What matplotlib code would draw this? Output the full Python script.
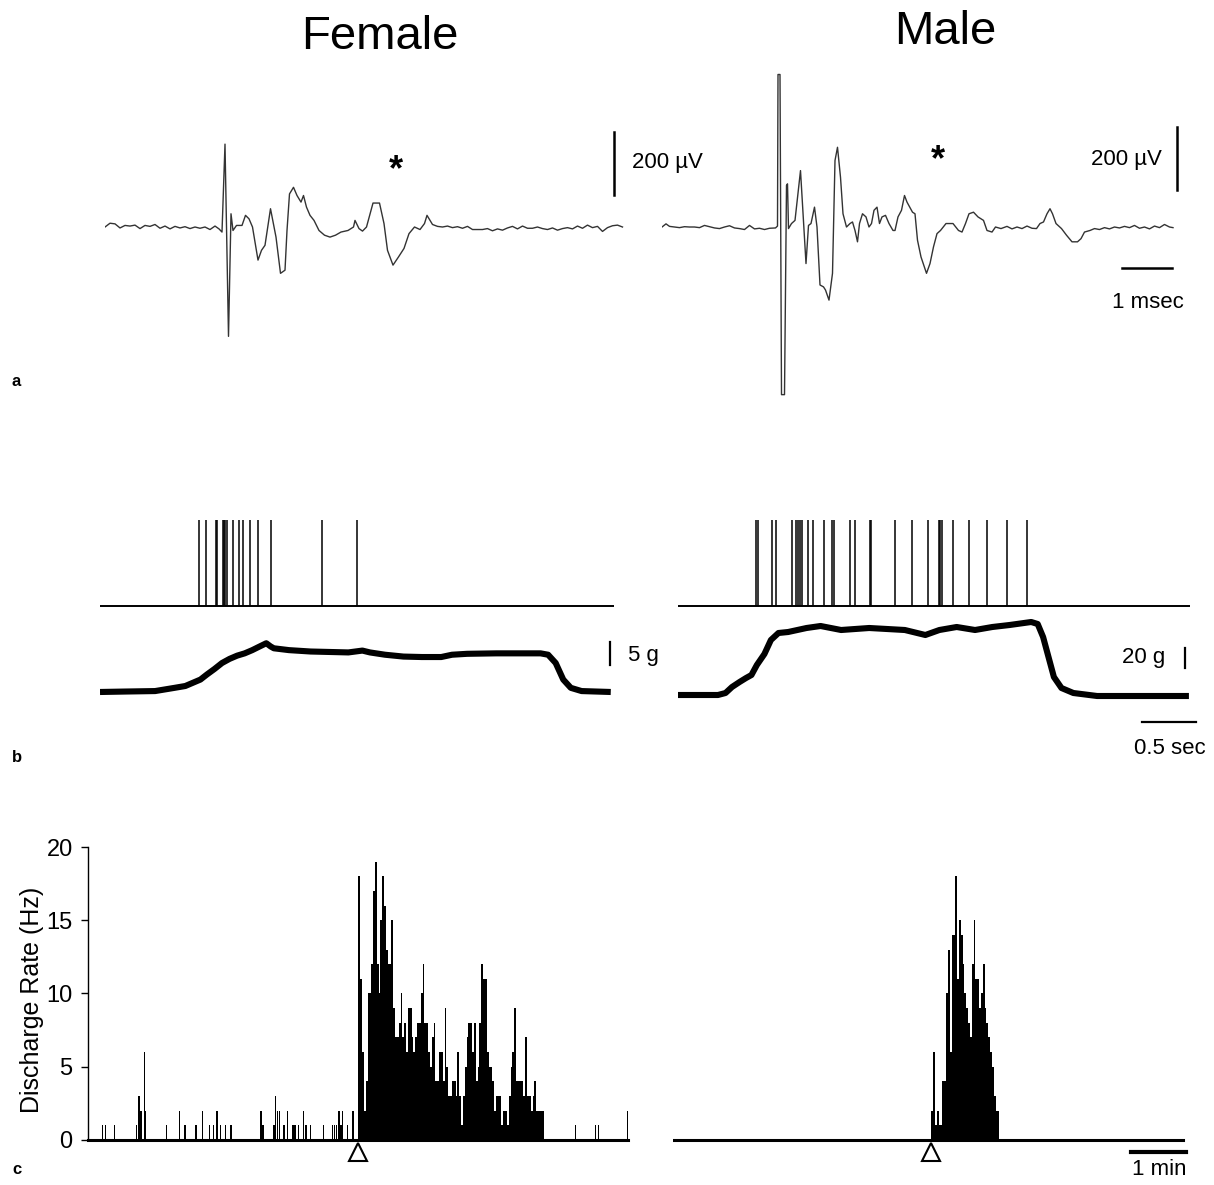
import matplotlib
matplotlib.use('Agg')
import matplotlib.pyplot as plt

plt.rcParams['font.family'] = ['Liberation Sans', 'DejaVu Sans']

# --- panel a: single unit waveforms (ms, uV) ---
fem_t = [0.0, 0.1, 0.2, 0.3, 0.4, 0.5, 0.6, 0.7, 0.8, 0.9, 1.0, 1.1, 1.2, 1.3, 1.4, 1.5,
         1.6, 1.7, 1.8, 1.9, 2.0, 2.1, 2.2, 2.28, 2.34, 2.40, 2.47, 2.52, 2.56, 2.63, 2.74,
         2.81, 2.88, 2.95, 3.06, 3.13, 3.20, 3.31, 3.42, 3.51, 3.60, 3.64, 3.69, 3.77, 3.84,
         3.92, 3.97, 4.03, 4.10, 4.18, 4.28, 4.39, 4.50, 4.61, 4.72, 4.86, 4.97, 5.00, 5.08,
         5.15, 5.23, 5.36, 5.49, 5.58, 5.65, 5.76, 5.87, 5.98, 6.08, 6.19, 6.30, 6.39, 6.44,
         6.55, 6.65, 6.75, 6.85, 6.95, 7.05, 7.15, 7.25, 7.35, 7.45, 7.55, 7.65, 7.75, 7.85,
         7.95, 8.05, 8.15, 8.25, 8.35, 8.45, 8.55, 8.65, 8.75, 8.85, 8.95, 9.05, 9.15, 9.25,
         9.35, 9.45, 9.55, 9.65, 9.75, 9.85, 9.95, 10.05, 10.15, 10.25, 10.35]
fem_v = [0, 12, 10, -3, 5, 3, 6, -5, 5, 2, 8, -4, 3, -6, 2, -3, 1, -5, 0, -4, 0, -8, 3, -6,
         -16, 263, -347, 42, -11, 5, 5, 37, 26, 0, -105, -74, -58, 58, -32, -147, -137, -11,
         105, 126, 100, 79, 100, 63, 37, 21, -11, -26, -32, -26, -16, -11, 0, 21, -5, -13, 0,
         76, 76, 11, -74, -121, -95, -68, -21, 0, -8, 11, 37, 8,
         2, 0, 3, -2, 1, -4, 2, -8, -8, -8, -5, -12, -6, -10, -3, 2, -6, 3, -4, -4, 0, -5, -8,
         -3, -10, -5, -2, -6, 3, -4, 6, -2, 2, -14, -2, 4, 6, 0]

male_t = [0.0, 0.08, 0.15, 0.25, 0.35, 0.45, 0.55, 0.65, 0.75, 0.85, 0.95, 1.05, 1.15, 1.25,
          1.35, 1.45, 1.55, 1.65, 1.75, 1.85, 1.95, 2.05, 2.15, 2.27, 2.31, 2.32, 2.36, 2.39,
          2.45, 2.49, 2.51, 2.53, 2.59, 2.66, 2.77, 2.88, 2.93, 2.98, 3.05, 3.10, 3.16, 3.23,
          3.27, 3.34, 3.41, 3.46, 3.51, 3.57, 3.62, 3.69, 3.76, 3.81, 3.86, 3.91, 3.95, 4.01,
          4.08, 4.14, 4.19, 4.24, 4.30, 4.35, 4.40, 4.47, 4.54, 4.62, 4.66, 4.72, 4.79, 4.85,
          4.90, 5.01, 5.06, 5.11, 5.18, 5.29, 5.36, 5.43, 5.50, 5.57, 5.68, 5.82, 5.93, 6.00,
          6.07, 6.14, 6.23, 6.32, 6.43, 6.50, 6.60, 6.67, 6.78, 6.9, 7.0, 7.1, 7.2, 7.3, 7.4,
          7.49, 7.56, 7.63, 7.70, 7.76, 7.81, 7.88, 7.99, 8.09, 8.20, 8.31, 8.38, 8.45, 8.56,
          8.65, 8.75, 8.85, 8.95, 9.05, 9.15, 9.25, 9.35, 9.45, 9.55, 9.65, 9.75, 9.85, 9.95,
          10.05, 10.15, 10.22]
male_v = [0, 10, 2, 0, -2, 1, 0, 0, -2, 5, 1, -3, -5, 0, 4, -3, -5, -8, 5, -6, -4, -8, -4,
          -3, 3, 484, 484, -532, -532, 132, 137, -5, 11, 21, 179, -116, 5, 11, 63, 0, -184,
          -190, -200, -232, -147, 211, 253, 158, 42, 0, 11, 16, -11, -47, 11, 42, 32, 0, 11,
          53, 63, 11, 32, 37, 11, -11, -11, 32, 53, 100, 79, 47, 42, -42, -95, -147, -116,
          -63, -21, -11, 11, 11, -11, -16, 11, 42, 47, 32, 21, -11, -16, 0, -5, 2, -6, 0, -5,
          3, -4, -5, 11, 16, 42, 58, 42, 11, -5, -26, -47, -47, -37, -16, -11, -5, -8, -2, -6,
          0, -3, 2, -2, 5, -4, 0, -6, 3, -2, 8, 0, -2]

# --- panel b: spike times (s) and force (g) ---
fem_spikes = [0.92, 0.98, 1.07, 1.08, 1.14, 1.15, 1.16, 1.18, 1.23, 1.29, 1.32, 1.39, 1.46,
              1.58, 2.06, 2.38]
male_spikes = [0.72, 0.74, 0.87, 0.91, 1.06, 1.09, 1.11, 1.13, 1.15, 1.20, 1.25, 1.35, 1.43,
               1.44, 1.59, 1.64, 1.78, 1.79, 2.01, 2.17, 2.31, 2.42, 2.43, 2.44, 2.55, 2.69,
               2.86, 3.05, 3.23]

fem_force_t = [0, 0.24, 0.51, 0.69, 0.79, 0.86, 0.93, 0.99, 1.06, 1.13, 1.20, 1.27, 1.34,
               1.41, 1.47, 1.54, 1.58, 1.61, 1.75, 1.95, 2.30, 2.43, 2.50, 2.64, 2.81, 2.98,
               3.16, 3.26, 3.40, 3.67, 4.08, 4.15, 4.22, 4.29, 4.36, 4.46, 4.73]
fem_force = [0, 0.1, 0.2, 0.9, 1.3, 2.0, 2.7, 3.8, 5.0, 6.3, 7.2, 7.9, 8.4, 9.1, 9.8, 10.6,
             9.9, 9.5, 9.1, 8.8, 8.6, 9.0, 8.6, 8.1, 7.7, 7.6, 7.6, 8.1, 8.3, 8.4, 8.4, 8.1,
             6.3, 2.7, 0.9, 0.2, 0]
male_force_t = [0, 0.37, 0.44, 0.50, 0.57, 0.63, 0.68, 0.73, 0.80, 0.86, 0.93, 1.02, 1.19,
                1.32, 1.51, 1.77, 2.10, 2.29, 2.42, 2.58, 2.75, 2.91, 3.07, 3.27, 3.33, 3.38,
                3.43, 3.48, 3.55, 3.66, 3.88, 4.73]
male_force = [0, 0, 2, 8, 13, 17, 20, 30, 41, 55, 62, 63, 67, 69, 65, 67, 65, 60, 65, 68, 65,
              68, 70, 73, 71, 58, 38, 18, 7, 2, -1, -1]

# --- panel c: discharge rate histograms, 2 s bins (start time s, Hz) ---
fem_sparse_t = [15, 18, 28, 52, 55, 57, 61, 62, 85, 99, 105, 117, 124, 132, 136, 140, 144, 149,
                155, 188, 190, 202, 204, 206, 208, 213, 217, 223, 225, 229, 234, 237, 242, 256,
                266, 268, 270, 273, 275, 277, 282, 288, 531, 553, 556, 588]
fem_sparse_hz = [1, 1, 1, 1, 3, 2, 6, 2, 1, 2, 1, 1, 2, 1, 1, 2, 1, 1, 1, 2, 1, 1, 3, 2, 2, 1,
                 2, 1, 1, 1, 2, 1, 1, 1, 1, 1, 1, 2, 1, 2, 1, 2, 1, 1, 1, 2]
fem_burst_start = 295
fem_burst_hz = [18, 11, 6, 2, 4, 10, 10, 12, 17, 19, 12, 10, 15, 18, 16, 13, 12, 12, 15, 9, 7,
                7, 8, 10, 7, 8, 6, 9, 9, 7, 6, 7, 8, 8, 10, 12, 8, 8, 6, 5, 7, 8, 4, 4, 6, 6, 4,
                9, 5, 3, 3, 4, 4, 3, 6, 3, 1, 3, 5, 7, 8, 8, 6, 8, 4, 5, 8, 12, 11, 11, 6, 5, 5,
                4, 2, 3, 3, 3, 1, 2, 2, 1, 3, 5, 6, 9, 4, 4, 4, 4, 3, 7, 3, 3, 2, 3, 4, 2, 2, 2, 2]
male_burst_start = 282
male_burst_hz = [2, 6, 1, 2, 1, 1, 4, 4, 10, 13, 6, 14, 14, 18, 11, 15, 14, 12, 10, 9, 8, 7,
                 12, 15, 11, 11, 9, 10, 12, 9, 8, 7, 6, 5, 3, 2, 2]

W, H = 1214, 1185
fig = plt.figure(figsize=(W / 100, H / 100), dpi=100)


def axes_px(x0, y0, x1, y1):
    ax = fig.add_axes([x0 / W, 1 - y1 / H, (x1 - x0) / W, (y1 - y0) / H])
    ax.patch.set_visible(False)
    return ax


fs = 16

# panel a
ax = axes_px(105, 60, 625, 400)
ax.axis('off')
ax.set_xlim(0, 10.4)
ax.set_ylim(-549, 530)
ax.plot(fem_t, fem_v, color='#333333', lw=1.0)
ax.plot([10.18, 10.18], [102, 302], color='black', lw=1.8, clip_on=False)
ax.text(10.54, 206, '200 µV', fontsize=fs, va='center', ha='left')
ax.text(5.82, 178, '*', fontsize=26, fontweight='bold', ha='center', va='center')

ax = axes_px(662, 60, 1178, 400)
ax.axis('off')
ax.set_xlim(0, 10.32)
ax.set_ylim(-549, 530)
ax.plot(male_t, male_v, color='#333333', lw=1.0)
ax.plot([10.3, 10.3], [117, 317], color='black', lw=1.8, clip_on=False)
ax.text(10.0, 213, '200 µV', fontsize=fs, va='center', ha='right')
ax.plot([9.2, 10.2], [-130, -130], color='black', lw=1.8)
ax.text(9.72, -238, '1 msec', fontsize=fs, ha='center', va='center')
ax.text(5.52, 210, '*', fontsize=26, fontweight='bold', ha='center', va='center')

# panel b
ax = axes_px(100, 500, 614, 620)
ax.axis('off')
ax.set_xlim(0, 4.76)
ax.set_ylim(-0.163, 1.233)
ax.vlines(fem_spikes, 0, 1, color='black', lw=1.1)
ax.plot([0, 4.76], [0, 0], color='black', lw=1.4)

ax = axes_px(100, 620, 614, 720)
ax.axis('off')
ax.set_xlim(0, 4.76)
ax.set_ylim(-6.09, 15.65)
ax.plot(fem_force_t, fem_force, color='black', lw=4.4, solid_joinstyle='round',
        solid_capstyle='butt')
ax.plot([4.72, 4.72], [5.9, 10.9], color='black', lw=1.6, clip_on=False)
ax.text(4.89, 8.0, '5 g', fontsize=fs, va='center', ha='left')

ax = axes_px(678, 500, 1190, 620)
ax.axis('off')
ax.set_xlim(0, 4.74)
ax.set_ylim(-0.163, 1.233)
ax.vlines(male_spikes, 0, 1, color='black', lw=1.1)
ax.plot([0, 4.74], [0, 0], color='black', lw=1.4)

ax = axes_px(678, 610, 1190, 760)
ax.axis('off')
ax.set_xlim(0, 4.74)
ax.set_ylim(-65, 85)
ax.plot(male_force_t, male_force, color='black', lw=4.4, solid_joinstyle='round',
        solid_capstyle='butt')
ax.plot([4.69, 4.69], [27, 47], color='black', lw=1.6, clip_on=False)
ax.text(4.51, 38, '20 g', fontsize=fs, va='center', ha='right')
ax.plot([4.30, 4.80], [-27, -27], color='black', lw=1.6, clip_on=False)
ax.text(4.55, -53, '0.5 sec', fontsize=fs, ha='center', va='center', clip_on=False)

# panel c
fem_burst_t = [fem_burst_start + 2 * k for k in range(len(fem_burst_hz))]
male_burst_t = [male_burst_start + 2 * k for k in range(len(male_burst_hz))]

ax = axes_px(88, 840, 628, 1160)
ax.set_xlim(0, 589)
ax.set_ylim(-1.37, 20.48)
ax.bar(fem_sparse_t, fem_sparse_hz, width=1.6, align='edge', color='black', lw=0)
ax.bar(fem_burst_t, fem_burst_hz, width=2.0, align='edge', color='black', lw=0)
ax.plot([0, 589], [0, 0], color='black', lw=2.2, clip_on=False)
ax.plot(fem_burst_start, -0.8, marker='^', ms=13, mfc='white', mec='black', mew=1.5,
        clip_on=False)
for s in ['top', 'right', 'bottom']:
    ax.spines[s].set_visible(False)
ax.spines['left'].set_bounds(0, 20)
ax.spines['left'].set_linewidth(1.0)
ax.set_xticks([])
ax.set_yticks([0, 5, 10, 15, 20])
ax.tick_params(axis='y', labelsize=17, length=5, width=1.0, pad=6)
ax.set_ylabel('Discharge Rate (Hz)', fontsize=18, labelpad=2)

ax = axes_px(673, 840, 1190, 1160)
ax.axis('off')
ax.set_xlim(0, 564)
ax.set_ylim(-1.37, 20.48)
ax.bar(male_burst_t, male_burst_hz, width=2.0, align='edge', color='black', lw=0)
ax.plot([0, 556], [0, 0], color='black', lw=2.2)
ax.plot(male_burst_start, -0.8, marker='^', ms=13, mfc='white', mec='black', mew=1.5,
        clip_on=False)
ax.plot([500, 560], [-0.82, -0.82], color='black', lw=3.0, clip_on=False)
ax.text(531, -2.05, '1 min', fontsize=fs, ha='center', va='center', clip_on=False)

# titles and panel letters
fig.text(380 / W, 1 - 37 / H, 'Female', fontsize=34, ha='center', va='center')
fig.text(945 / W, 1 - 32 / H, 'Male', fontsize=34, ha='center', va='center')
fig.text(12 / W, 1 - 382 / H, 'a', fontsize=12, fontweight='bold', va='center')
fig.text(12 / W, 1 - 757 / H, 'b', fontsize=12, fontweight='bold', va='center')
fig.text(12 / W, 1 - 1170 / H, 'c', fontsize=12, fontweight='bold', va='center')

fig.savefig('out.png', dpi=100)
